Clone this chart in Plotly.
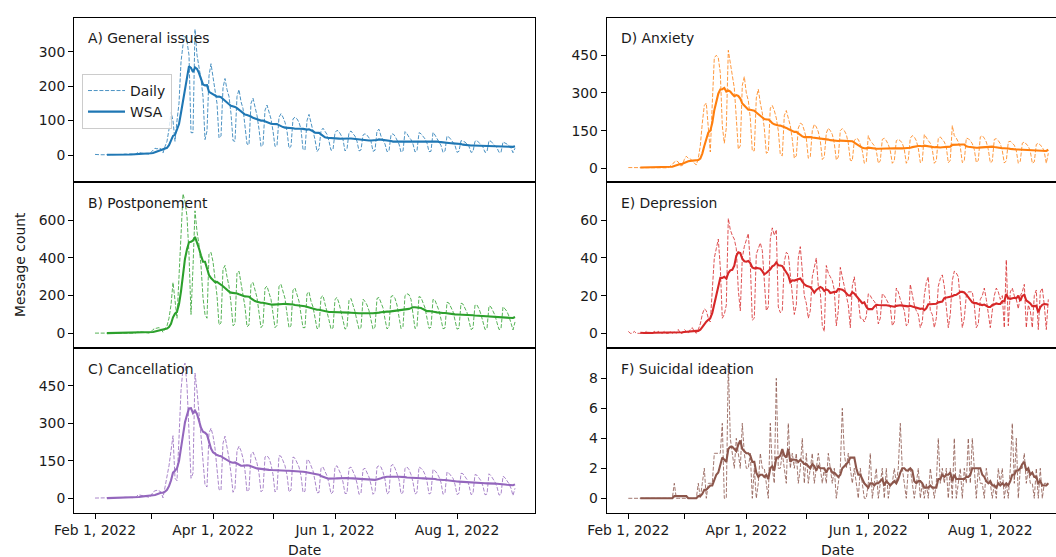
import pandas as pd
import plotly.graph_objects as go

# ---------------- data (daily message counts from 2022-02-01) ----------------
start_date = "2022-02-01"

general_daily = [
    2, 1, 1, 1, 1, 1, 0,
    1, 2, 1, 1, 1, 0, 1,
    2, 3, 2, 2, 3, 1, 1,
    6, 8, 6, 5, 5, 2, 3,
    8, 15, 20, 18, 20, 18, 6,
    25, 40, 75, 125, 100, 40, 100,
    150, 270, 320, 345, 330, 290, 65,
    65, 365, 290, 260, 220, 170, 45,
    70, 230, 265, 225, 200, 150, 50,
    55, 195, 222, 190, 170, 120, 42,
    40, 170, 190, 155, 135, 90, 32,
    30, 150, 165, 140, 115, 75, 25,
    30, 130, 145, 125, 105, 70, 25,
    28, 110, 120, 110, 95, 70, 20,
    25, 105, 110, 105, 95, 75, 17,
    15, 100, 118, 90, 70, 45, 10,
    18, 70, 78, 70, 60, 40, 14,
    16, 65, 72, 68, 58, 45, 12,
    18, 65, 70, 62, 55, 40, 12,
    15, 58, 62, 58, 50, 40, 11,
    14, 70, 75, 55, 45, 32, 10,
    12, 58, 62, 55, 45, 32, 9,
    12, 68, 62, 52, 45, 32, 9,
    13, 65, 62, 55, 47, 35, 10,
    11, 66, 58, 48, 40, 28, 8,
    12, 55, 52, 45, 38, 28, 8,
    11, 42, 40, 38, 32, 25, 8,
    10, 40, 42, 36, 30, 23, 8,
    10, 42, 40, 33, 28, 21, 8,
    8, 38, 36, 32, 27, 20, 7,
    20,
]

postponement_daily = [
    1, 1, 2, 1, 1, 0, 1,
    2, 1, 1, 2, 1, 1, 0,
    2, 3, 2, 3, 2, 1, 1,
    6, 8, 7, 6, 5, 2, 1,
    8, 20, 25, 28, 30, 24, 5,
    25, 40, 80, 150, 270, 160, 80,
    300, 520, 740, 700, 620, 420, 100,
    350, 650, 540, 470, 360, 190, 100,
    80, 420, 430, 380, 300, 200, 45,
    55, 340, 360, 300, 250, 160, 40,
    50, 320, 330, 270, 220, 140, 35,
    44, 260, 270, 230, 190, 110, 30,
    44, 240, 250, 215, 180, 105, 30,
    42, 250, 260, 220, 185, 105, 30,
    40, 230, 240, 205, 170, 100, 30,
    30, 210, 220, 170, 140, 80, 25,
    28, 190, 200, 160, 120, 70, 23,
    28, 180, 190, 160, 120, 70, 22,
    30, 175, 185, 150, 115, 65, 22,
    30, 180, 170, 150, 120, 70, 22,
    32, 185, 190, 165, 135, 75, 23,
    33, 195, 200, 185, 150, 80, 25,
    36, 200, 210, 205, 180, 110, 25,
    35, 195, 190, 165, 135, 80, 26,
    32, 180, 175, 150, 120, 75, 24,
    28, 165, 160, 140, 115, 70, 22,
    27, 160, 155, 135, 110, 65, 20,
    27, 150, 150, 130, 100, 60, 20,
    26, 145, 140, 120, 95, 56, 20,
    24, 140, 130, 115, 90, 50, 18,
    60,
]

cancellation_daily = [
    1, 1, 1, 1, 1, 0, 1,
    2, 2, 2, 3, 2, 1, 2,
    3, 4, 3, 4, 3, 2, 2,
    10, 14, 12, 10, 9, 4, 4,
    10, 25, 30, 32, 30, 25, 2,
    40, 80, 130, 190, 250, 80, 70,
    240, 430, 520, 540, 450, 260, 80,
    100, 500, 430, 350, 250, 150, 54,
    45, 260, 280, 250, 200, 120, 35,
    32, 220, 248, 210, 160, 100, 24,
    40, 190, 208, 190, 160, 110, 26,
    35, 175, 185, 165, 140, 100, 26,
    34, 165, 170, 160, 135, 95, 25,
    34, 170, 168, 150, 130, 93, 25,
    33, 165, 160, 145, 125, 90, 24,
    28, 155, 150, 130, 110, 70, 22,
    23, 120, 125, 110, 90, 60, 18,
    25, 125, 130, 115, 95, 65, 19,
    20, 120, 125, 108, 90, 60, 16,
    20, 115, 120, 100, 85, 55, 16,
    25, 125, 130, 125, 105, 75, 17,
    24, 130, 135, 120, 100, 75, 18,
    23, 120, 125, 115, 95, 65, 17,
    23, 125, 120, 112, 95, 68, 17,
    22, 115, 110, 100, 85, 63, 16,
    22, 105, 100, 92, 80, 55, 15,
    20, 100, 98, 88, 75, 52, 15,
    19, 95, 92, 82, 70, 48, 14,
    17, 98, 90, 78, 65, 45, 13,
    15, 88, 82, 70, 58, 40, 11,
    40,
]

anxiety_daily = [
    3, 3, 4, 3, 3, 2, 3,
    4, 3, 3, 4, 3, 2, 2,
    5, 5, 4, 5, 4, 3, 2,
    10, 15, 25, 30, 25, 10, 11,
    35, 48, 40, 38, 30, 20, 13,
    40, 90, 180, 250, 260, 165, 65,
    260, 440, 450, 440, 380, 170, 100,
    160, 470, 420, 370, 320, 200, 76,
    90, 330, 365, 300, 270, 200, 69,
    70, 280, 315, 260, 220, 160, 60,
    65, 240, 250, 230, 200, 150, 55,
    50, 210, 230, 200, 170, 115, 40,
    50, 160, 180, 175, 150, 120, 40,
    46, 150, 175, 165, 145, 110, 35,
    45, 140, 160, 150, 135, 100, 33,
    45, 150, 158, 150, 135, 100, 32,
    30, 110, 120, 115, 95, 70, 20,
    26, 130, 110, 100, 90, 70, 20,
    30, 115, 120, 110, 95, 70, 20,
    30, 110, 115, 110, 100, 75, 20,
    35, 120, 130, 125, 110, 80, 23,
    28, 135, 120, 110, 100, 75, 20,
    30, 120, 125, 115, 105, 85, 22,
    32, 170, 130, 120, 105, 85, 23,
    30, 120, 118, 110, 98, 75, 23,
    32, 125, 130, 120, 105, 75, 22,
    28, 115, 118, 110, 98, 70, 21,
    30, 105, 108, 100, 92, 70, 20,
    28, 100, 105, 95, 88, 68, 20,
    26, 95, 100, 92, 85, 65, 20,
    60,
]

depression_daily = [
    1, 0, 0, 1, 0, 0, 0,
    0, 0, 1, 0, 0, 0, 1,
    0, 1, 0, 0, 1, 0, 0,
    1, 0, 1, 0, 2, 0, 0,
    2, 1, 0, 2, 3, 1, 0,
    2, 5, 10, 13, 12, 8, 6,
    22, 40, 45, 50, 35, 8, 10,
    15, 61, 55, 52, 50, 45, 23,
    12, 40, 46, 50, 53, 37, 7,
    8, 42, 45, 48, 44, 25, 12,
    14, 50, 56, 52, 55, 14, 11,
    12, 38, 43, 42, 30, 21, 10,
    15, 40, 46, 30, 20, 16, 8,
    12, 30, 35, 40, 25, 22, 4,
    1, 36, 32, 30, 28, 23, 4,
    12, 35, 30, 25, 20, 15, 3,
    25, 30, 20, 18, 8, 8, 6,
    9, 21, 20, 18, 17, 15, 5,
    8, 21, 20, 18, 16, 14, 4,
    6, 24, 22, 18, 15, 12, 4,
    5, 26, 20, 15, 12, 10, 3,
    6, 20, 27, 30, 12, 10, 3,
    8, 25, 29, 31, 25, 12, 3,
    10, 28, 33, 32, 30, 18, 3,
    8, 20, 22, 22, 22, 15, 3,
    5, 18, 20, 24, 18, 10, 3,
    12, 20, 24, 22, 18, 20, 3,
    39, 4, 22, 24, 20, 18, 13,
    20, 22, 26, 3, 15, 12, 3,
    20, 23, 2, 22, 24, 15, 2,
    18,
]

suicidal_daily = [
    0, 0, 0, 0, 0, 0, 0,
    0, 0, 0, 0, 0, 0, 0,
    0, 0, 0, 0, 0, 0, 0,
    0, 0, 1, 0, 0, 0, 0,
    0, 0, 0, 0, 0, 0, 0,
    1, 0, 1, 2, 0, 1, 1,
    1, 3, 3, 3, 3, 5, 0,
    0, 9, 4, 3, 2, 4, 3,
    2, 5, 3, 2, 2, 3, 0,
    2, 0, 1, 3, 2, 2, 1,
    0, 5, 2, 1, 8, 2, 2,
    3, 2, 1, 5, 2, 3, 2,
    3, 1, 2, 4, 1, 3, 1,
    2, 3, 1, 2, 3, 2, 1,
    2, 1, 3, 2, 1, 2, 0,
    1, 2, 6, 3, 2, 3, 2,
    1, 2, 1, 0, 2, 1, 0,
    0, 1, 3, 0, 1, 2, 0,
    1, 2, 0, 2, 0, 1, 1,
    2, 1, 2, 5, 2, 1, 0,
    2, 2, 1, 0, 1, 2, 0,
    1, 0, 1, 0, 2, 1, 0,
    1, 4, 1, 2, 1, 2, 0,
    2, 0, 4, 0, 1, 2, 0,
    2, 1, 4, 1, 4, 2, 0,
    2, 1, 1, 0, 2, 1, 1,
    0, 1, 0, 2, 1, 2, 0,
    1, 0, 2, 5, 1, 4, 0,
    2, 2, 3, 1, 2, 1, 1,
    0, 2, 0, 2, 0, 1, 1,
    1,
]

panel_titles = ["A) General issues", "B) Postponement", "C) Cancellation",
                "D) Anxiety", "E) Depression", "F) Suicidal ideation"]
panel_series = [general_daily, postponement_daily, cancellation_daily,
                anxiety_daily, depression_daily, suicidal_daily]
panel_colors = ["#1f77b4", "#2ca02c", "#9467bd", "#ff7f0e", "#d62728", "#8c564b"]
panel_yticks = [[0, 100, 200, 300], [0, 200, 400, 600], [0, 150, 300, 450],
                [0, 150, 300, 450], [0, 20, 40, 60], [0, 2, 4, 6, 8]]
month_ticks = ["2022-02-01", "2022-03-01", "2022-04-01", "2022-05-01",
               "2022-06-01", "2022-07-01", "2022-08-01"]
month_labels = ["Feb 1, 2022", "", "Apr 1, 2022", "", "Jun 1, 2022", "",
                "Aug 1, 2022"]

# ---------------- layout geometry ----------------
W, H = 1056, 557
FONT = "DejaVu Sans"
FS = 13.9
TXT = "#1a1a1a"

base = pd.Timestamp(start_date)
dates = pd.date_range(start_date, periods=len(general_daily), freq="D")

col_px = [(74, 535), (606.7, 1056)]
col_day_range = [(-10.5, 220.0), (-10.8, 213.85)]
row_px = [(17.5, 182), (182, 347.7), (347.7, 512.7)]
yranges = [[-78, 399], [-76.5, 803], [-57.5, 601.5],
           [-54.5, 600.5], [-7.65, 80.35], [-0.96, 10.04]]

fig = go.Figure()
layout = dict(template="none", width=W, height=H,
              margin=dict(l=0, r=0, t=0, b=0, pad=0), autosize=False,
              paper_bgcolor="white", plot_bgcolor="white",
              font=dict(family=FONT, size=FS, color=TXT),
              showlegend=True)
annotations = []

for i in range(6):
    col = i // 3
    row = i % 3
    ax = "" if i == 0 else str(i + 1)
    daily = panel_series[i]
    wsa = pd.Series(daily, dtype=float).rolling(7).mean()
    color = panel_colors[i]

    fig.add_trace(go.Scatter(
        x=dates, y=daily, mode="lines", name="Daily",
        line=dict(color=color, width=0.8, dash="4px,1.7px"),
        showlegend=(i == 0), xaxis="x" + ax, yaxis="y" + ax,
        hoverinfo="skip"))
    fig.add_trace(go.Scatter(
        x=dates, y=wsa, mode="lines", name="WSA",
        line=dict(color=color, width=2.1),
        showlegend=(i == 0), xaxis="x" + ax, yaxis="y" + ax,
        hoverinfo="skip"))

    x0, x1 = col_px[col]
    ytop, ybot = row_px[row]
    d0, d1 = col_day_range[col]
    bottom = (row == 2)
    layout["xaxis" + ax] = dict(
        domain=[x0 / W, x1 / W], anchor="y" + ax, type="date",
        automargin=False,
        range=[base + pd.Timedelta(days=d0), base + pd.Timedelta(days=d1)],
        showline=True, linecolor="black", linewidth=1, mirror=True,
        showgrid=False, zeroline=False,
        tickmode="array", tickvals=month_ticks,
        ticktext=month_labels if bottom else [""] * len(month_ticks),
        ticks="outside" if bottom else "", ticklen=5, tickwidth=1,
        tickcolor="black", showticklabels=bottom,
        tickfont=dict(family=FONT, size=FS, color=TXT))
    layout["yaxis" + ax] = dict(
        domain=[1 - ybot / H, 1 - ytop / H], anchor="x" + ax,
        automargin=False,
        range=yranges[i], showline=True, linecolor="black", linewidth=1,
        mirror=(col == 0), showgrid=False, zeroline=False,
        tickmode="array", tickvals=panel_yticks[i],
        ticks="outside", ticklen=5, tickwidth=1, tickcolor="black",
        tickfont=dict(family=FONT, size=FS, color=TXT))

    annotations.append(dict(
        text=panel_titles[i], xref="paper", yref="paper",
        x=(x0 + 12) / W, y=1 - (ytop + 21) / H,
        xanchor="left", yanchor="middle", showarrow=False,
        font=dict(family=FONT, size=FS, color=TXT)))

annotations.append(dict(text="Date", xref="paper", yref="paper",
                        x=304.5 / W, y=1 - 550 / H, xanchor="center",
                        yanchor="middle", showarrow=False,
                        font=dict(family=FONT, size=FS, color=TXT)))
annotations.append(dict(text="Date", xref="paper", yref="paper",
                        x=837.5 / W, y=1 - 550 / H, xanchor="center",
                        yanchor="middle", showarrow=False,
                        font=dict(family=FONT, size=FS, color=TXT)))
annotations.append(dict(text="Message count", xref="paper", yref="paper",
                        x=20 / W, y=1 - 265 / H, xanchor="center",
                        yanchor="middle", textangle=-90, showarrow=False,
                        font=dict(family=FONT, size=FS, color=TXT)))

layout["annotations"] = annotations
layout["legend"] = dict(x=82 / W, y=1 - 74 / H, xanchor="left", yanchor="top",
                        bgcolor="rgba(255,255,255,0.8)", bordercolor="#cccccc",
                        borderwidth=1, font=dict(family=FONT, size=FS, color=TXT),
                        tracegroupgap=0, itemwidth=37)
fig.update_layout(**layout)
fig.write_html("out.html",
               config={"displayModeBar": False, "staticPlot": True},
               post_script="document.body.style.margin='0';"
                           "document.body.style.overflow='hidden';")
